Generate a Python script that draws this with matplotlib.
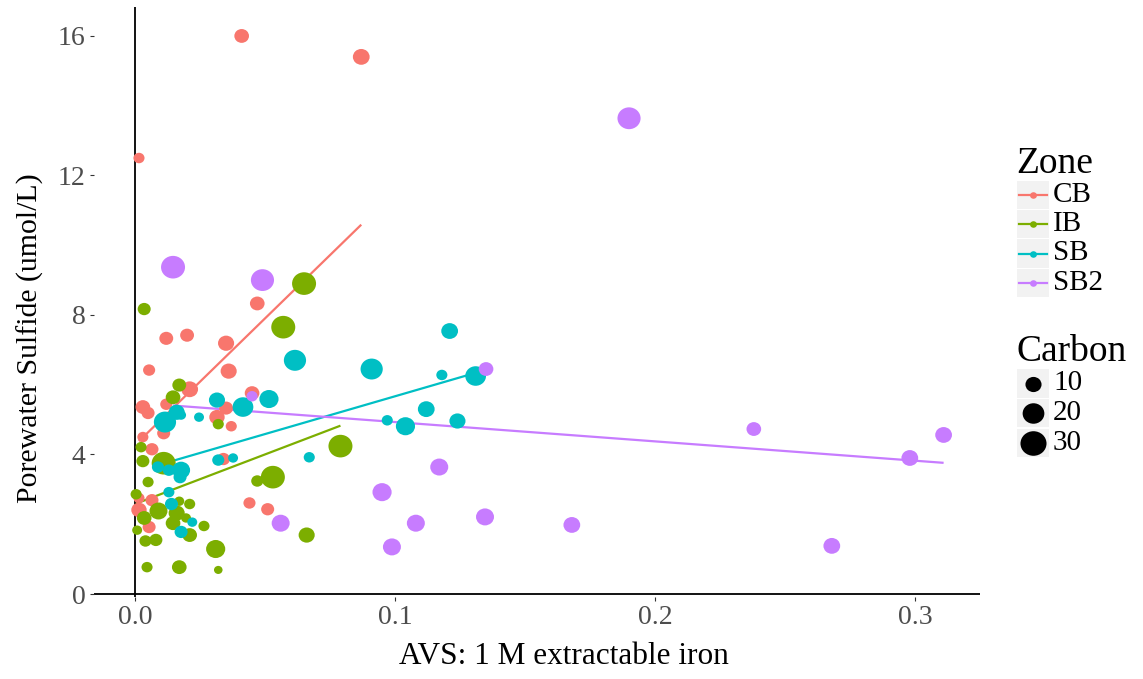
import numpy as np
import matplotlib
matplotlib.use('Agg')
import matplotlib.pyplot as plt
from matplotlib.path import Path
from matplotlib.transforms import Affine2D
from matplotlib.patches import Rectangle
from matplotlib.lines import Line2D

plt.rcParams['font.family'] = ['Liberation Serif', 'DejaVu Serif']

zones = ['CB', 'IB', 'SB', 'SB2']
colors = ['#F8766D', '#7CAE00', '#00BFC4', '#C77CFF']

# AVS (x), porewater sulfide (y), carbon (size) per zone
cb_x = [0.041, 0.087, 0.0015, 0.047, 0.012, 0.020, 0.035, 0.0054, 0.036, 0.021,
        0.003, 0.005, 0.012, 0.045, 0.035, 0.0315, 0.037, 0.011, 0.003, 0.0065,
        0.034, 0.0065, 0.0015, 0.0015, 0.0054, 0.044, 0.051]
cb_y = [16.0, 15.4, 12.5, 8.33, 7.33, 7.42, 7.19, 6.42, 6.39, 5.87,
        5.36, 5.19, 5.44, 5.76, 5.33, 5.07, 4.81, 4.61, 4.50, 4.15,
        3.87, 2.69, 2.75, 2.41, 1.92, 2.61, 2.43]
cb_c = [8, 11, 4, 8, 7, 7, 10, 5, 10, 11,
        8, 6, 5, 8, 7, 9, 4, 6, 4, 6,
        6, 6, 4, 9, 6, 5, 6]

ib_x = [0.065, 0.0035, 0.057, 0.017, 0.0146, 0.032, 0.0023, 0.003, 0.011, 0.005,
        0.0004, 0.079, 0.053, 0.047, 0.009, 0.0035, 0.0146, 0.017, 0.021, 0.016,
        0.021, 0.0265, 0.0196, 0.0008, 0.004, 0.008, 0.031, 0.066, 0.0046, 0.017,
        0.032]
ib_y = [8.9, 8.17, 7.65, 5.99, 5.64, 4.87, 4.21, 3.81, 3.75, 3.21,
        2.86, 4.24, 3.35, 3.24, 2.38, 2.18, 2.03, 2.66, 2.58, 2.32,
        1.69, 1.95, 2.18, 1.83, 1.52, 1.55, 1.29, 1.69, 0.77, 0.77,
        0.69]
ib_c = [25, 6, 25, 7, 8, 4, 4, 6, 25, 4,
        4, 25, 25, 5, 13, 8, 8, 3, 4, 10,
        8, 4, 3, 3, 5, 6, 15, 10, 4, 8,
        2]

sb_x = [0.121, 0.0615, 0.091, 0.118, 0.131, 0.0515, 0.0315, 0.0415, 0.112, 0.097,
        0.104, 0.124, 0.0115, 0.016, 0.0177, 0.0246, 0.0088, 0.013, 0.0177, 0.0173,
        0.032, 0.0377, 0.067, 0.013, 0.014, 0.022, 0.0177]
sb_y = [7.54, 6.7, 6.45, 6.28, 6.25, 5.59, 5.56, 5.36, 5.3, 4.98,
        4.81, 4.96, 4.93, 5.21, 5.13, 5.07, 3.64, 3.55, 3.55, 3.35,
        3.84, 3.9, 3.92, 2.92, 2.58, 2.06, 1.78]
sb_c = [11, 21, 21, 4, 18, 15, 10, 18, 11, 4,
        15, 10, 21, 10, 3, 3, 5, 5, 13, 6,
        5, 3, 4, 4, 6, 3, 6]

sb2_x = [0.190, 0.0146, 0.049, 0.045, 0.135, 0.056, 0.117, 0.095, 0.108, 0.1346,
         0.0988, 0.238, 0.311, 0.298, 0.268, 0.168]
sb2_y = [13.64, 9.37, 9.0, 5.67, 6.45, 2.03, 3.64, 2.92, 2.03, 2.21,
         1.35, 4.73, 4.56, 3.9, 1.38, 1.98]
sb2_c = [23, 25, 23, 4, 8, 13, 13, 15, 13, 13,
         13, 8, 11, 11, 11, 11]

carbon_breaks = [10, 20, 30]
x_ticks = [0.0, 0.1, 0.2, 0.3]
y_ticks = [0, 4, 8, 12, 16]

series = [(cb_x, cb_y, cb_c), (ib_x, ib_y, ib_c), (sb_x, sb_y, sb_c), (sb2_x, sb2_y, sb2_c)]

W, H = 1143, 679
def fx(px):
    return px / W
def fy(py):
    return 1 - py / H

def dot_size(c):
    # size scale: marker width in px from carbon, returned as points^2
    d = 2.5 + 4.3 * np.sqrt(np.asarray(c, dtype=float))
    return (d * 0.72) ** 2

# slightly wide ellipse marker (reference is a bit stretched horizontally)
ell = Path.unit_circle().transformed(Affine2D().scale(1.0, 1 / 1.06))

fig = plt.figure(figsize=(W / 100, H / 100), dpi=100)
ax = fig.add_axes([fx(94), fy(597), fx(980) - fx(94), fy(7) - fy(597)])

for (x, y, c), col in zip(series, colors):
    x = np.array(x)
    y = np.array(y)
    k, b = np.polyfit(x, y, 1)
    xs = np.array([x.min(), x.max()])
    ax.plot(xs, k * xs + b, color=col, lw=1.6, zorder=2, solid_capstyle='butt')
for (x, y, c), col in zip(series, colors):
    ax.scatter(x, y, s=dot_size(c), color=col, marker=ell, linewidths=0, zorder=3)

ax.axhline(0, color='black', lw=1.3, zorder=1)
ax.axvline(0, color='black', lw=1.3, zorder=1)

ax.set_xlim(-0.0158, 0.325)
ax.set_ylim(-0.086, 16.83)
ax.set_xticks(x_ticks)
ax.set_xticklabels(['%.1f' % t for t in x_ticks])
ax.set_yticks(y_ticks)
ax.set_yticklabels([str(t) for t in y_ticks])
for s in ax.spines.values():
    s.set_visible(False)
ax.tick_params(length=3, width=0.8, color='#333333', labelcolor='#4D4D4D',
               labelsize=20, pad=3)

fig.text(fx(564), fy(664), 'AVS: 1 M extractable iron', fontsize=22.5,
         ha='center', va='baseline')
fig.text(fx(30), fy(338), 'Porewater Sulfide (umol/L)', fontsize=21.5,
         rotation=90, ha='center', va='center')

# legend: Zone
fig.text(fx(1016), fy(173), 'Zone', fontsize=27, ha='left', va='baseline')
zone_rows = [(181, 209), (210, 238), (239, 268), (269, 297)]
for (top, bot), name, col in zip(zone_rows, zones, colors):
    fig.add_artist(Rectangle((fx(1017), fy(bot)), fx(1049) - fx(1017), fy(top) - fy(bot),
                             transform=fig.transFigure, color='#F2F2F2', lw=0))
    yc = fy((top + bot) / 2)
    fig.add_artist(Line2D([fx(1019), fx(1047)], [yc, yc], transform=fig.transFigure,
                          color=col, lw=1.6))
    fig.add_artist(Line2D([fx(1033)], [yc], transform=fig.transFigure, color=col,
                          marker=ell, markersize=5, markeredgewidth=0))
    fig.text(fx(1053), yc, name, fontsize=21, ha='left', va='center')

# legend: Carbon
fig.text(fx(1016), fy(361), 'Carbon', fontsize=27, ha='left', va='baseline')
carbon_rows = [(369, 398), (399, 427), (429, 457)]
for (top, bot), val in zip(carbon_rows, carbon_breaks):
    fig.add_artist(Rectangle((fx(1017), fy(bot)), fx(1049) - fx(1017), fy(top) - fy(bot),
                             transform=fig.transFigure, color='#F2F2F2', lw=0))
    yc = fy((top + bot) / 2)
    fig.add_artist(Line2D([fx(1033)], [yc], transform=fig.transFigure, color='black',
                          marker=ell, markersize=np.sqrt(dot_size(val)), markeredgewidth=0))
    fig.text(fx(1053), yc, str(val), fontsize=21, ha='left', va='center')

fig.savefig('out.png', dpi=100)
